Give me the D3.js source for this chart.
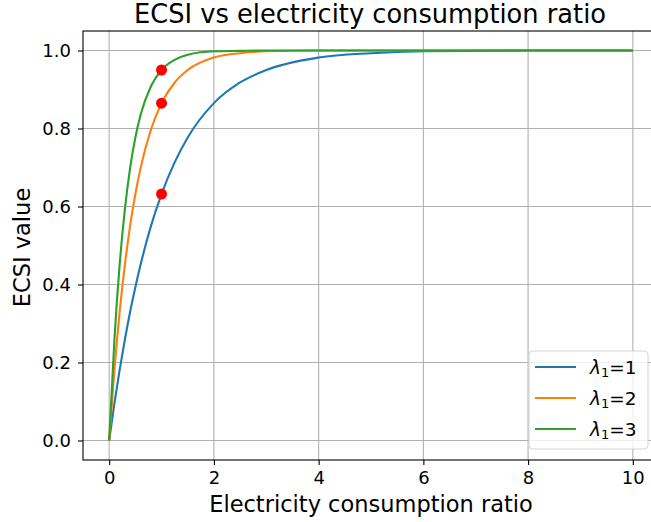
<!DOCTYPE html>
<html>
<head>
<meta charset="utf-8">
<script src="https://d3js.org/d3.v7.min.js"></script>
<style>
  body { margin: 0; background: #fff; }
  text { font-family: "DejaVu Sans", sans-serif; fill: #000; }
</style>
</head>
<body>
<script>

  // values
  var ratio = [0, 0.1, 0.2, 0.3, 0.4, 0.5, 0.6, 0.8, 1, 1.25, 1.5, 2, 2.5, 3, 4, 5, 6, 8, 10];
  var ecsiL1 = [0, 0.095, 0.181, 0.259, 0.330, 0.393, 0.451, 0.551, 0.632, 0.713, 0.777, 0.865, 0.918, 0.950, 0.982, 0.993, 0.998, 1.0, 1.0];
  var ecsiL2 = [0, 0.181, 0.330, 0.451, 0.551, 0.632, 0.699, 0.798, 0.865, 0.918, 0.950, 0.982, 0.993, 0.998, 1.0, 1.0, 1.0, 1.0, 1.0];
  var ecsiL3 = [0, 0.259, 0.451, 0.593, 0.699, 0.777, 0.835, 0.909, 0.950, 0.976, 0.989, 0.998, 0.999, 1.0, 1.0, 1.0, 1.0, 1.0, 1.0];
  var lambdas = ["1", "2", "3"];
  var colors = ["#1f77b4", "#ff7f0e", "#2ca02c"];
  var markX = [1, 1, 1];
  var markY = [0.632, 0.865, 0.950];
  var xTicks = [0, 2, 4, 6, 8, 10];
  var yTicks = [0, 0.2, 0.4, 0.6, 0.8, 1.0];

  var w = 651, h = 522;
  var margin = {top: 31, right: -8, bottom: 62, left: 83};
  var width = w - margin.left - margin.right,
      height = h - margin.top - margin.bottom;

  var svg = d3.select("body").append("svg")
      .attr("width", w)
      .attr("height", h);

  var x = d3.scaleLinear().domain([-0.5, 10.5]).range([0, width]);
  var y = d3.scaleLinear().domain([-0.05, 1.05]).range([height, 0]);

  var g = svg.append("g")
      .attr("transform", "translate(" + margin.left + "," + margin.top + ")");

  // grid
  g.append("g").selectAll("line")
    .data(xTicks).enter().append("line")
      .attr("x1", function(d) { return x(d); })
      .attr("x2", function(d) { return x(d); })
      .attr("y1", 0).attr("y2", height)
      .attr("stroke", "#b0b0b0").attr("stroke-width", 1.1);
  g.append("g").selectAll("line")
    .data(yTicks).enter().append("line")
      .attr("y1", function(d) { return y(d); })
      .attr("y2", function(d) { return y(d); })
      .attr("x1", 0).attr("x2", width)
      .attr("stroke", "#b0b0b0").attr("stroke-width", 1.1);

  var series = [ecsiL1, ecsiL2, ecsiL3];
  var line = d3.line()
      .x(function(d, i) { return x(ratio[i]); })
      .y(function(d) { return y(d); })
      .curve(d3.curveMonotoneX);

  series.forEach(function(s, k) {
    g.append("path")
      .datum(s)
      .attr("d", line)
      .attr("fill", "none")
      .attr("stroke", colors[k])
      .attr("stroke-width", 2.1);
  });

  g.selectAll(".dot")
    .data(markY).enter().append("circle")
      .attr("class", "dot")
      .attr("cx", function(d, i) { return x(markX[i]); })
      .attr("cy", function(d) { return y(d); })
      .attr("r", 5.5)
      .attr("fill", "#ff0000");

  // axes
  var xAxis = g.append("g")
      .attr("transform", "translate(0," + height + ")")
      .call(d3.axisBottom(x).tickValues(xTicks).tickFormat(d3.format("d")).tickSize(5).tickPadding(6));
  var yAxis = g.append("g")
      .call(d3.axisLeft(y).tickValues(yTicks).tickFormat(d3.format(".1f")).tickSize(5).tickPadding(7));
  [xAxis, yAxis].forEach(function(a) {
    a.select(".domain").remove();
    a.selectAll("line").attr("stroke", "#000").attr("stroke-width", 1.1);
    a.selectAll("text").attr("font-size", 18).attr("font-family", "DejaVu Sans").attr("fill", "#000");
  });

  g.append("rect")
    .attr("width", width).attr("height", height)
    .attr("fill", "none").attr("stroke", "#000").attr("stroke-width", 1.1);

  svg.append("text")
    .attr("x", margin.left + width / 2 - 1).attr("y", 23)
    .attr("text-anchor", "middle").attr("font-size", 25.7)
    .text("ECSI vs electricity consumption ratio");

  svg.append("text")
    .attr("x", margin.left + width / 2).attr("y", 512)
    .attr("text-anchor", "middle").attr("font-size", 22.5)
    .text("Electricity consumption ratio");

  svg.append("text")
    .attr("transform", "translate(30," + (margin.top + height / 2 + 2) + ") rotate(-90)")
    .attr("text-anchor", "middle").attr("font-size", 22.5)
    .text("ECSI value");

  // legend
  var leg = svg.append("g").attr("transform", "translate(529,351)");
  leg.append("rect")
    .attr("width", 119).attr("height", 98).attr("rx", 4)
    .attr("fill", "#fff").attr("fill-opacity", 0.8)
    .attr("stroke", "#d6d6d6").attr("stroke-width", 1.1);
  lambdas.forEach(function(l, k) {
    var yy = 16 + k * 31;
    leg.append("line")
      .attr("x1", 6).attr("x2", 47).attr("y1", yy).attr("y2", yy)
      .attr("stroke", colors[k]).attr("stroke-width", 2.1);
    var t = leg.append("text")
      .attr("x", 61).attr("y", yy + 7).attr("font-size", 18.5);
    t.append("tspan").attr("font-style", "italic").text("λ");
    t.append("tspan").attr("font-size", 13).attr("dy", 3).text("1");
    t.append("tspan").attr("dy", -3).text("=" + l);
  });

</script>
</body>
</html>
